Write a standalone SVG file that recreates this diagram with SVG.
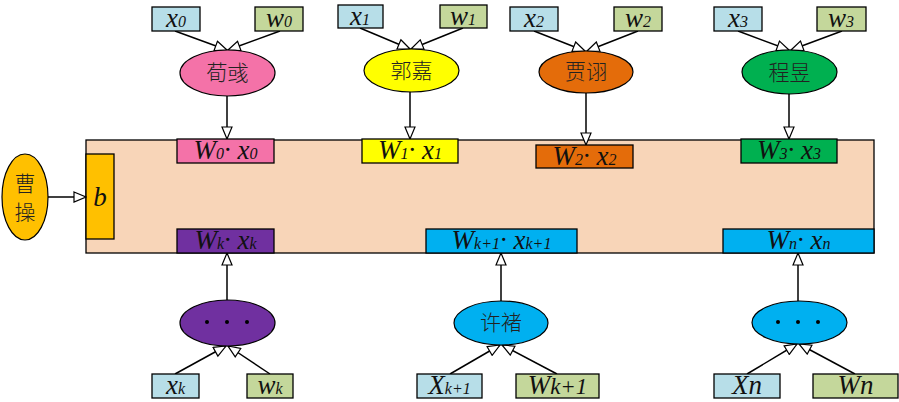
<svg xmlns="http://www.w3.org/2000/svg" width="899" height="402" viewBox="0 0 899 402">
<style>
.bx{stroke:#000;stroke-width:1.3}
.xb{fill:#B7DEE8}
.wb{fill:#C4D79B}
.el{stroke:#000;stroke-width:1.2}
.m{font-family:"Liberation Serif","DejaVu Serif",serif;font-style:italic;font-size:27px;fill:#111;text-anchor:middle}
.s{font-size:16px}
.cn{font-family:"Noto Sans CJK SC","Noto Sans",sans-serif;font-size:21px;fill:#222;text-anchor:middle;font-weight:300}
.cl{fill:none;stroke:#000;stroke-width:1.5}
</style>
<defs>
<marker id="ar" viewBox="0 0 14 12" refX="13" refY="6" markerWidth="14" markerHeight="12" markerUnits="userSpaceOnUse" orient="auto">
<path d="M1,1 L13,6 L1,11 Z" fill="#fff" stroke="#000" stroke-width="1.2"/>
</marker>
</defs>
<g id="main">
<rect x="86" y="140" width="788" height="113" fill="#F8D5B8" stroke="#000" stroke-width="1.3"/>
</g>
<g id="b">
<rect class="bx" x="86" y="154" width="28" height="85" fill="#FFC000"/>
<text class="m" x="100" y="206" font-size="30">b</text>
</g>
<g id="caocao">
<ellipse class="el" cx="25" cy="197" rx="23" ry="43" fill="#FFC000"/>
<text class="cn" x="25" y="191">曹</text>
<text class="cn" x="25" y="220">操</text>
</g>
<g id="connectors">
<line class="cl" x1="48" y1="197" x2="86" y2="197" marker-end="url(#ar)"/>
<line class="cl" x1="175" y1="31" x2="227" y2="50" marker-end="url(#ar)"/>
<line class="cl" x1="280" y1="31" x2="228" y2="50" marker-end="url(#ar)"/>
<line class="cl" x1="227" y1="96" x2="227" y2="139" marker-end="url(#ar)"/>
<line class="cl" x1="360" y1="28" x2="410" y2="49" marker-end="url(#ar)"/>
<line class="cl" x1="463" y1="28" x2="411" y2="49" marker-end="url(#ar)"/>
<line class="cl" x1="410" y1="92" x2="410" y2="139" marker-end="url(#ar)"/>
<line class="cl" x1="534" y1="31" x2="585" y2="51" marker-end="url(#ar)"/>
<line class="cl" x1="638" y1="31" x2="587" y2="51" marker-end="url(#ar)"/>
<line class="cl" x1="586" y1="93" x2="586" y2="145" marker-end="url(#ar)"/>
<line class="cl" x1="738" y1="31" x2="789" y2="50" marker-end="url(#ar)"/>
<line class="cl" x1="842" y1="31" x2="791" y2="50" marker-end="url(#ar)"/>
<line class="cl" x1="789" y1="94" x2="789" y2="139" marker-end="url(#ar)"/>
<line class="cl" x1="227" y1="300" x2="227" y2="253" marker-end="url(#ar)"/>
<line class="cl" x1="175" y1="374" x2="226" y2="346" marker-end="url(#ar)"/>
<line class="cl" x1="270" y1="374" x2="228" y2="346" marker-end="url(#ar)"/>
<line class="cl" x1="501" y1="301" x2="501" y2="253" marker-end="url(#ar)"/>
<line class="cl" x1="450" y1="374" x2="500" y2="345" marker-end="url(#ar)"/>
<line class="cl" x1="557" y1="374" x2="502" y2="345" marker-end="url(#ar)"/>
<line class="cl" x1="798" y1="301" x2="798" y2="253" marker-end="url(#ar)"/>
<line class="cl" x1="747" y1="374" x2="797" y2="344" marker-end="url(#ar)"/>
<line class="cl" x1="855" y1="374" x2="799" y2="344" marker-end="url(#ar)"/>
</g>
<g id="x0"><rect class="bx xb" x="152" y="7" width="48" height="24"/><text class="m" x="176" y="27">x<tspan class="s">0</tspan></text></g>
<g id="w0"><rect class="bx wb" x="255" y="7" width="48" height="24"/><text class="m" x="279" y="27">w<tspan class="s">0</tspan></text></g>
<g id="xunyu"><ellipse class="el" cx="227.5" cy="73" rx="47.5" ry="23" fill="#F472A8"/><text class="cn" x="227.5" y="80">荀彧</text></g>
<g id="x1"><rect class="bx xb" x="338" y="5" width="45" height="23"/><text class="m" x="360" y="25">x<tspan class="s">1</tspan></text></g>
<g id="w1"><rect class="bx wb" x="440" y="5" width="47" height="23"/><text class="m" x="463" y="25">w<tspan class="s">1</tspan></text></g>
<g id="guojia"><ellipse class="el" cx="411.5" cy="70.5" rx="47.5" ry="21.5" fill="#FFFF00"/><text class="cn" x="411.5" y="78">郭嘉</text></g>
<g id="x2"><rect class="bx xb" x="510" y="7" width="48" height="24"/><text class="m" x="534" y="27">x<tspan class="s">2</tspan></text></g>
<g id="w2"><rect class="bx wb" x="614" y="7" width="48" height="24"/><text class="m" x="638" y="27">w<tspan class="s">2</tspan></text></g>
<g id="jiaxu"><ellipse class="el" cx="586" cy="72" rx="47" ry="21" fill="#E46C0A"/><text class="cn" x="586" y="79">贾诩</text></g>
<g id="x3"><rect class="bx xb" x="714" y="7" width="48" height="24"/><text class="m" x="738" y="27">x<tspan class="s">3</tspan></text></g>
<g id="w3"><rect class="bx wb" x="817" y="7" width="49" height="24"/><text class="m" x="841" y="27">w<tspan class="s">3</tspan></text></g>
<g id="chengyu"><ellipse class="el" cx="789.5" cy="72" rx="47.5" ry="22" fill="#00B050"/><text class="cn" x="789.5" y="80">程昱</text></g>
<g id="w0x0"><rect class="bx" x="177" y="139" width="97" height="24" fill="#F472A8"/><text class="m" x="225.5" y="159">W<tspan class="s">0</tspan>· x<tspan class="s">0</tspan></text></g>
<g id="w1x1"><rect class="bx" x="362" y="139" width="96" height="24" fill="#FFFF00"/><text class="m" x="410" y="159">W<tspan class="s">1</tspan>· x<tspan class="s">1</tspan></text></g>
<g id="w2x2"><rect class="bx" x="536" y="145" width="97" height="23" fill="#E46C0A"/><text class="m" x="584.5" y="165">W<tspan class="s">2</tspan>· x<tspan class="s">2</tspan></text></g>
<g id="w3x3"><rect class="bx" x="741" y="139" width="96" height="24" fill="#00B050"/><text class="m" x="789" y="159">W<tspan class="s">3</tspan>· x<tspan class="s">3</tspan></text></g>
<g id="wkxk"><rect class="bx" x="177" y="229" width="97" height="24" fill="#7030A0"/><text class="m" x="225.5" y="249">W<tspan class="s">k</tspan>· x<tspan class="s">k</tspan></text></g>
<g id="wk1xk1"><rect class="bx" x="426" y="229" width="151" height="24" fill="#00B0F0"/><text class="m" x="501.5" y="249">W<tspan class="s">k+1</tspan>· x<tspan class="s">k+1</tspan></text></g>
<g id="wnxn"><rect class="bx" x="723" y="229" width="151" height="24" fill="#00B0F0"/><text class="m" x="798.5" y="249">W<tspan class="s">n</tspan>· x<tspan class="s">n</tspan></text></g>
<g id="dots1"><ellipse class="el" cx="227.5" cy="323" rx="47.5" ry="23" fill="#7030A0"/><circle cx="207" cy="322" r="2"/><circle cx="227" cy="322" r="2"/><circle cx="247" cy="322" r="2"/></g>
<g id="xk"><rect class="bx xb" x="152" y="374" width="47" height="24"/><text class="m" x="175.5" y="394">x<tspan class="s">k</tspan></text></g>
<g id="wk"><rect class="bx wb" x="247" y="374" width="46" height="24"/><text class="m" x="270" y="394">w<tspan class="s">k</tspan></text></g>
<g id="xuchu"><ellipse class="el" cx="501" cy="323" rx="47" ry="22" fill="#00B0F0"/><text class="cn" x="501" y="330" font-size="19">许褚</text></g>
<g id="xk1"><rect class="bx xb" x="417" y="374" width="65" height="24"/><text class="m" x="449.5" y="394">X<tspan class="s">k+1</tspan></text></g>
<g id="wk1"><rect class="bx wb" x="516" y="374" width="83" height="24"/><text class="m" x="557.5" y="394">W<tspan font-size="23">k+1</tspan></text></g>
<g id="dots2"><ellipse class="el" cx="799.5" cy="322.5" rx="47.5" ry="21.5" fill="#00B0F0"/><circle cx="778" cy="322" r="2"/><circle cx="798" cy="322" r="2"/><circle cx="818" cy="322" r="2"/></g>
<g id="xn"><rect class="bx xb" x="714" y="374" width="66" height="24"/><text class="m" x="747" y="394">Xn</text></g>
<g id="wn"><rect class="bx wb" x="813" y="374" width="85" height="24"/><text class="m" x="855.5" y="394">Wn</text></g>
</svg>
